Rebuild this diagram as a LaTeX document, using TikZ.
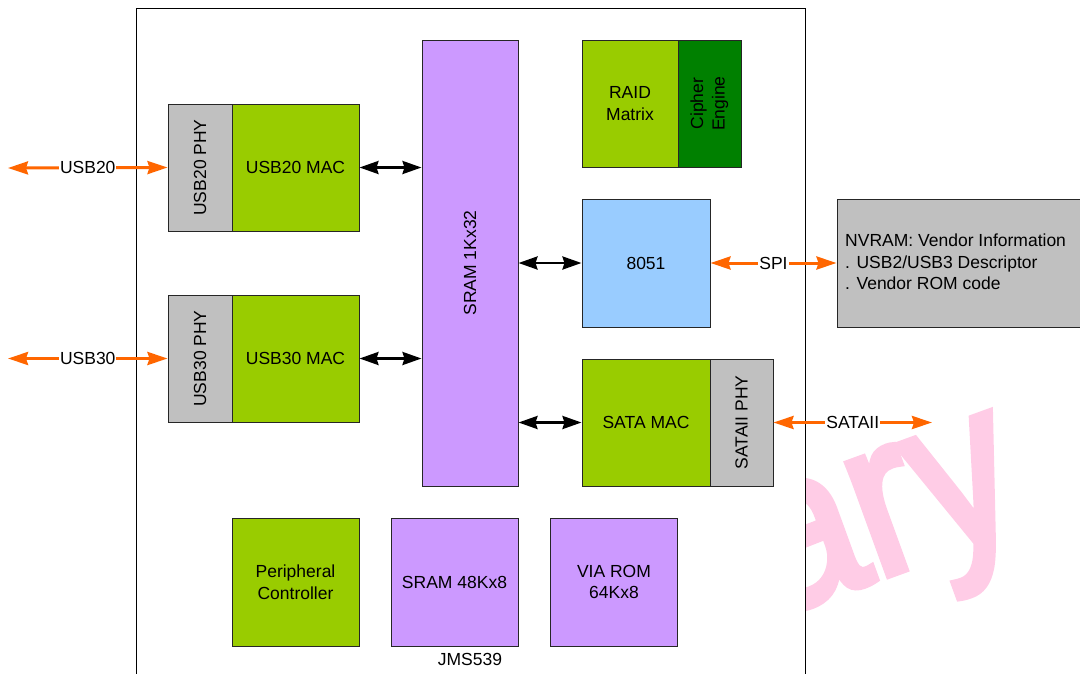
\documentclass[tikz,border=0pt]{standalone}
\usepackage{fontspec}
\usepackage{graphicx}
\setmainfont{Liberation Sans}
\newfontfamily\wmfamily[FakeBold=3.5]{Liberation Sans}
\usetikzlibrary{arrows.meta}
\definecolor{macgreen}{HTML}{99CC00}
\definecolor{phygray}{HTML}{C0C0C0}
\definecolor{rampurple}{HTML}{CC99FF}
\definecolor{cpublue}{HTML}{99CCFF}
\definecolor{darkgreen}{HTML}{008000}
\definecolor{linkorange}{HTML}{FF6600}
\definecolor{wmpink}{RGB}{255,204,230}
\newcommand\lblfont{\fontsize{17.5}{21.5}\selectfont}
\newcommand\wmfont{\wmfamily\fontsize{224}{224}\selectfont}
\begin{document}
\begin{tikzpicture}[x=1pt,y=-1pt,
  blk/.style={draw=black!85, line width=1pt, inner sep=0pt, align=center, font=\lblfont},
  oarr/.style={draw=linkorange, line width=3pt, {Stealth[length=20pt,width=13pt,inset=2pt]}-{Stealth[length=20pt,width=13pt,inset=2pt]}},
  barr/.style={draw=black, line width=2.8pt, {Stealth[length=19pt,width=13pt,inset=2pt]}-{Stealth[length=19pt,width=13pt,inset=2pt]}},
  lbl/.style={fill=white, inner sep=1pt, font=\lblfont},
  wm/.style={text=wmpink, rotate=20, anchor=base west, inner sep=0pt, outer sep=0pt, font=\wmfont}]
\useasboundingbox (0,0) rectangle (1080,673);
\clip (0,0) rectangle (1080,673);
% watermark
\node[wm] (wma) at (773,617) {\scalebox{0.88}[1]{a}};
\node[wm] (wmr) at (wma.base east) {\scalebox{0.88}[1]{r}};
\node[wm] (wmy) at (wmr.base east) {\scalebox{0.88}[1]{y}};
% chip outline
\node[draw=black, line width=1pt, fill=white, minimum width=669pt, minimum height=700pt, anchor=north west, inner sep=0pt] (chip) at (136,8) {};
% blocks
\node[blk, fill=phygray, minimum width=64pt, minimum height=127pt] (usb20phy) at (200,167.5) {\rotatebox{90}{USB20 PHY}};
\node[blk, fill=macgreen, minimum width=127pt, minimum height=127pt] (usb20mac) at (295.5,167.5) {USB20 MAC};
\node[blk, fill=phygray, minimum width=64pt, minimum height=127pt] (usb30phy) at (200,358.5) {\rotatebox{90}{USB30 PHY}};
\node[blk, fill=macgreen, minimum width=127pt, minimum height=127pt] (usb30mac) at (295.5,358.5) {USB30 MAC};
\node[blk, fill=rampurple, minimum width=96pt, minimum height=446pt] (sram) at (470,263) {\rotatebox{90}{SRAM 1Kx32}};
\node[blk, fill=macgreen, minimum width=96pt, minimum height=127pt] (raid) at (630,103.5) {RAID\\Matrix};
\node[blk, fill=darkgreen, minimum width=63pt, minimum height=127pt] (cipher) at (709.5,103.5) {\rotatebox{90}{\begin{tabular}{@{}c@{}}Cipher\\Engine\end{tabular}}};
\node[blk, fill=cpublue, minimum width=128pt, minimum height=128pt] (cpu) at (646,263) {8051};
\node[blk, fill=phygray, minimum width=250pt, minimum height=128pt] (nvram) at (962,263) {};
\node[anchor=west, align=left, inner sep=0pt, font=\lblfont] (nvramtext) at (845,262) {NVRAM: Vendor Information\\. USB2/USB3 Descriptor\\. Vendor ROM code};
\node[blk, fill=macgreen, minimum width=128pt, minimum height=127pt] (satamac) at (646,422.5) {SATA MAC};
\node[blk, fill=phygray, minimum width=63pt, minimum height=127pt] (sataphy) at (741.5,422.5) {\rotatebox{90}{SATAII PHY}};
\node[blk, fill=macgreen, minimum width=127pt, minimum height=128pt] (periph) at (295.5,582) {Peripheral\\Controller};
\node[blk, fill=rampurple, minimum width=127pt, minimum height=128pt] (sram48) at (454.5,582) {SRAM 48Kx8};
\node[blk, fill=rampurple, minimum width=127pt, minimum height=128pt] (viarom) at (614,582) {VIA ROM\\64Kx8};
\node[font=\lblfont, inner sep=0pt] (jms) at (470,659) {JMS539};
% external ends
\coordinate (usb20end) at (8,168);
\coordinate (usb30end) at (8,358.5);
\coordinate (sataend) at (932,422.5);
% connectors
\draw[oarr] (usb20end) -- node[lbl]{USB20} (usb20phy.west);
\draw[oarr] (usb30end) -- node[lbl]{USB30} (usb30phy.west);
\draw[oarr] (cpu.east) -- node[lbl]{SPI} (nvram.west);
\draw[oarr] (sataphy.east) -- node[lbl]{SATAII} (sataend);
\draw[barr] (usb20mac.east) -- (usb20mac.east -| sram.west);
\draw[barr] (usb30mac.east) -- (usb30mac.east -| sram.west);
\draw[barr] (cpu.west -| sram.east) -- (cpu.west);
\draw[barr] (satamac.west -| sram.east) -- (satamac.west);
\end{tikzpicture}
\end{document}
